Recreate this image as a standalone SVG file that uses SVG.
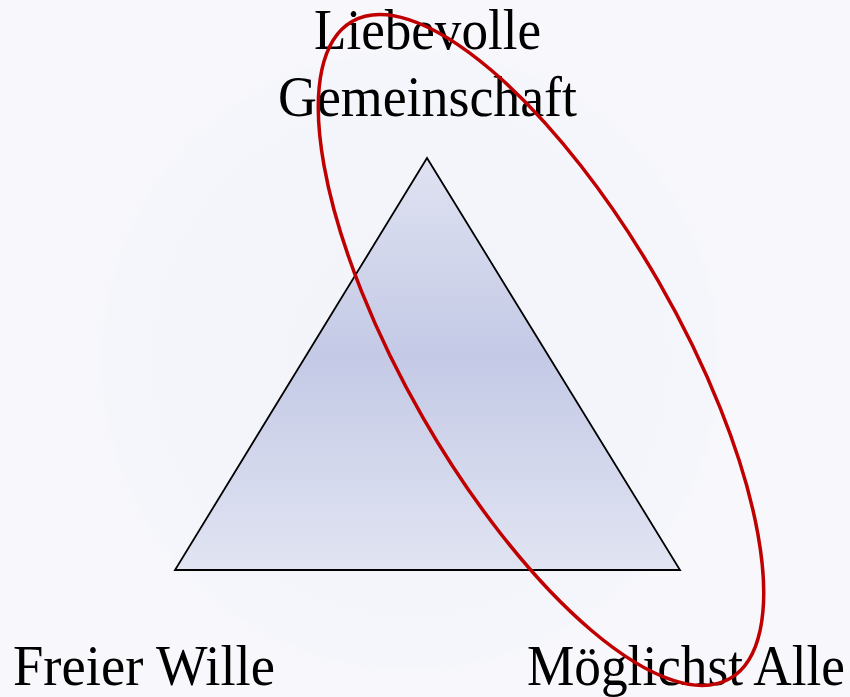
<svg xmlns="http://www.w3.org/2000/svg" width="850" height="697" viewBox="0 0 850 697">
  <defs>
    <radialGradient id="bg" cx="410" cy="360" r="320" gradientUnits="userSpaceOnUse">
      <stop offset="0" stop-color="#f3f4fa"/>
      <stop offset="0.95" stop-color="#f5f6fb"/>
      <stop offset="1" stop-color="#f8f8fc"/>
    </radialGradient>
    <linearGradient id="tri" x1="0" y1="158" x2="0" y2="570" gradientUnits="userSpaceOnUse">
      <stop offset="0" stop-color="#dfe2f1"/>
      <stop offset="0.48" stop-color="#c4cae6"/>
      <stop offset="1" stop-color="#e1e4f2"/>
    </linearGradient>
    <style>
      .lbl { font-family: "Liberation Serif", "DejaVu Serif", serif; font-size: 56px; fill: #000; }
    </style>
  </defs>
  <rect x="0" y="0" width="850" height="697" fill="#f8f8fc"/>
  <circle cx="410" cy="360" r="320" fill="url(#bg)"/>
  <g id="triangle">
    <polygon points="427,158 175,570 680,570" fill="url(#tri)" stroke="#000" stroke-width="1.8" stroke-linejoin="miter"/>
  </g>
  <g id="label-top">
    <text class="lbl" x="314" y="49" textLength="227" lengthAdjust="spacingAndGlyphs">Liebevolle</text>
    <text class="lbl" x="278" y="116" textLength="299" lengthAdjust="spacingAndGlyphs">Gemeinschaft</text>
  </g>
  <g id="label-left">
    <text class="lbl" x="13" y="685" textLength="262" lengthAdjust="spacingAndGlyphs">Freier Wille</text>
  </g>
  <g id="label-right">
    <text class="lbl" x="527" y="685" textLength="318" lengthAdjust="spacingAndGlyphs">Möglichst Alle</text>
  </g>
  <g id="connectors">
    <ellipse cx="541" cy="350" rx="379" ry="136" transform="rotate(60.1 541 350)" fill="none" stroke="#c00000" stroke-width="3.5"/>
  </g>
</svg>
